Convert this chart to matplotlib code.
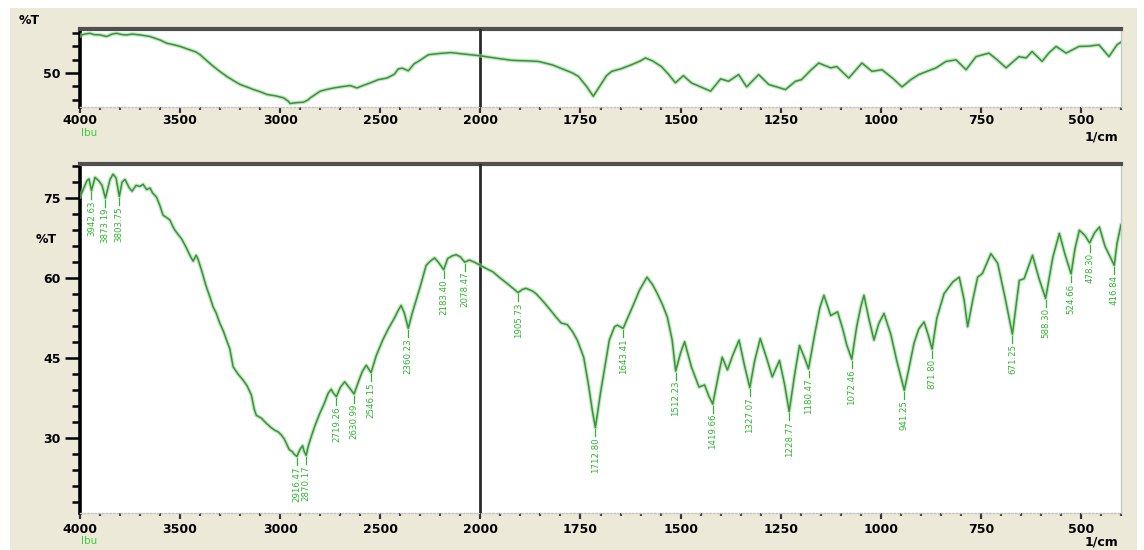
import numpy as np
import matplotlib
matplotlib.use("Agg")
import matplotlib.pyplot as plt
from matplotlib.patches import Rectangle

W, H = 1144, 550

# ---- upper (overview) trace ----
overview_wn = [4000, 3992, 3970, 3950, 3930, 3900, 3867, 3840, 3817, 3790, 3767, 3740,
               3700, 3650, 3600, 3567, 3530, 3500, 3450, 3420, 3400, 3370, 3333, 3300,
               3267, 3230, 3200, 3160, 3133, 3100, 3067, 3020, 2983, 2960, 2950, 2920,
               2883, 2860, 2850, 2800, 2770, 2733, 2690, 2650, 2617, 2580, 2550, 2510,
               2467, 2430, 2410, 2390, 2360, 2330, 2310, 2260, 2200, 2145, 2100, 2050,
               2000, 1960, 1920, 1880, 1855, 1820, 1790, 1770, 1755, 1735, 1718, 1700,
               1685, 1672, 1650, 1622, 1600, 1588, 1570, 1548, 1530, 1513, 1493, 1473,
               1450, 1425, 1400, 1380, 1355, 1335, 1305, 1280, 1238, 1213, 1198, 1175,
               1155, 1125, 1110, 1080, 1047, 1022, 997, 970, 947, 925, 905, 862,
               837, 812, 787, 762, 730, 710, 687, 655, 637, 622, 597, 580,
               562, 537, 505, 480, 455, 430, 410, 400]
overview_t = [63.8, 64.2, 64.6, 64.8, 64.3, 64.2, 63.6, 64.5, 64.8, 64.3, 64.2, 64.5,
              64.2, 63.6, 62.3, 61.1, 60.5, 59.9, 58.6, 57.8, 56.8, 54.8, 52.4, 50.5,
              48.7, 47.0, 45.7, 44.6, 43.8, 43.0, 42.0, 41.4, 40.7, 39.5, 38.6, 38.9,
              39.1, 40.0, 40.7, 43.2, 43.8, 44.4, 44.9, 45.3, 44.4, 45.5, 46.3, 47.5,
              48.1, 49.5, 51.5, 51.8, 50.8, 53.5, 54.3, 56.8, 57.3, 57.6, 57.2, 56.8,
              56.4, 55.5, 54.7, 54.5, 54.3, 53.0, 51.2, 50.0, 48.7, 45.0, 41.3, 45.5,
              49.0, 50.6, 51.5, 53.1, 54.5, 55.6, 54.5, 52.4, 49.5, 46.3, 49.0, 46.3,
              44.8, 43.2, 47.8, 46.9, 49.4, 44.8, 49.4, 45.7, 43.8, 46.9, 47.5, 51.0,
              53.7, 51.9, 52.4, 48.1, 53.7, 50.6, 51.2, 48.0, 44.8, 47.5, 49.4, 51.9,
              54.3, 54.9, 51.2, 56.1, 57.4, 55.0, 51.9, 56.1, 55.6, 58.0, 54.3, 57.5,
              59.9, 57.4, 59.9, 60.0, 60.5, 56.1, 60.5, 61.5]

# ---- lower (main) trace ----
main_wn = [4000, 3992, 3965, 3955, 3942.63, 3925, 3905, 3890, 3873.19, 3850, 3835, 3820,
           3803.75, 3790, 3775, 3755, 3740, 3720, 3700, 3685, 3667, 3650, 3638, 3618,
           3600, 3585, 3565, 3551, 3535, 3526, 3510, 3493, 3470, 3450, 3435, 3420,
           3410, 3393, 3370, 3352, 3335, 3320, 3302, 3285, 3268, 3252, 3235, 3210,
           3185, 3165, 3144, 3130, 3119, 3095, 3069, 3045, 3027, 3010, 2994, 2980,
           2969, 2955, 2940, 2930, 2916.47, 2900, 2888, 2880, 2870.17, 2860, 2845, 2825,
           2803, 2780, 2761, 2745, 2735, 2719.26, 2700, 2678, 2655, 2630.99, 2610, 2590,
           2570, 2546.15, 2520, 2488, 2460, 2430, 2410, 2396, 2380, 2360.23, 2340, 2321,
           2300, 2271, 2250, 2229, 2210, 2183.40, 2163, 2140, 2121, 2100, 2078.47, 2055,
           2030, 2005, 1985, 1969, 1950, 1933, 1920, 1905.73, 1895, 1886, 1870, 1861,
           1845, 1828, 1812, 1798, 1783, 1770, 1758, 1742, 1730, 1720, 1712.80, 1700,
           1692, 1678, 1665, 1658, 1643.41, 1633, 1618, 1603, 1584, 1570, 1558, 1545,
           1533, 1521, 1512.23, 1500, 1490, 1473, 1454, 1440, 1430, 1419.66, 1405, 1396,
           1383, 1370, 1354, 1340, 1327.07, 1315, 1301, 1285, 1271, 1253, 1240, 1228.77,
           1215, 1203, 1190, 1180.47, 1165, 1152, 1142, 1125, 1108, 1095, 1085, 1072.46,
           1060, 1050, 1042, 1030, 1017, 1005, 992, 975, 960, 941.25, 930, 917,
           905, 892, 882, 871.80, 860, 842, 820, 804, 792, 783, 770, 758,
           746, 725, 708, 690, 671.25, 654, 642, 621, 605, 588.30, 570, 554,
           540, 524.66, 515, 504, 490, 478.30, 466, 454, 440, 416.84, 410, 400]
main_t = [75.3, 75.9, 78.3, 78.6, 76.4, 78.9, 78.2, 77.4, 75.0, 78.5, 79.5, 78.8,
          75.3, 78.0, 78.5, 77.0, 76.3, 77.4, 77.2, 77.6, 76.6, 76.9, 76.0, 75.2,
          73.5, 71.8, 71.3, 70.9, 69.6, 69.0, 68.2, 67.4, 65.8, 64.2, 63.2, 64.3,
          63.5, 61.5, 58.5, 56.6, 54.6, 53.5, 51.6, 50.2, 48.4, 46.8, 43.4, 42.0,
          40.9, 39.8, 38.1, 35.5, 34.3, 33.8, 32.8, 32.0, 31.5, 31.2, 30.6, 29.9,
          29.0, 27.9, 27.5, 27.0, 26.6, 28.0, 28.6, 27.5, 26.8, 28.5, 30.3, 32.5,
          34.6, 36.5, 38.4, 39.2, 38.5, 37.8, 39.5, 40.6, 39.5, 38.3, 40.5, 42.5,
          43.7, 42.3, 45.5, 48.4, 50.5, 52.5, 54.0, 54.9, 53.5, 50.6, 53.5, 55.9,
          58.5, 62.4, 63.2, 63.8, 63.0, 61.6, 63.7, 64.2, 64.4, 64.0, 63.0, 63.4,
          63.0, 62.5, 61.8, 61.2, 60.0, 59.0, 58.2, 57.3, 57.9, 58.1, 57.6, 57.1,
          55.8, 54.3, 52.8, 51.6, 51.3, 50.0, 48.4, 45.2, 40.0, 35.0, 32.0, 38.5,
          42.1, 48.4, 50.9, 51.2, 50.6, 52.4, 55.0, 57.7, 60.2, 58.8, 57.1, 55.0,
          52.7, 48.4, 42.6, 46.0, 48.1, 43.4, 39.6, 40.0, 38.0, 36.4, 42.0, 45.2,
          42.8, 45.5, 48.4, 43.5, 39.5, 44.5, 48.7, 45.0, 41.5, 44.6, 40.0, 35.0,
          42.0, 47.4, 45.0, 43.0, 49.5, 54.5, 56.8, 53.0, 53.7, 50.5, 47.5, 44.8,
          51.0, 54.6, 56.8, 52.5, 48.4, 51.5, 53.4, 49.5, 44.5, 39.0, 43.0, 47.8,
          50.5, 51.8, 49.5, 46.7, 52.5, 57.1, 59.3, 60.2, 56.0, 50.9, 56.0, 60.2,
          60.9, 64.6, 62.8, 56.5, 49.5, 59.6, 59.9, 64.3, 60.0, 56.2, 64.0, 68.4,
          64.5, 60.8, 65.5, 69.0, 68.0, 66.6, 68.5, 69.6, 66.0, 62.4, 66.5, 70.0]

# labelled minima of the main trace
peak_wn = [3942.63, 3873.19, 3803.75, 2916.47, 2870.17, 2719.26, 2630.99, 2546.15,
           2360.23, 2183.40, 2078.47, 1905.73, 1712.80, 1643.41, 1512.23, 1419.66,
           1327.07, 1228.77, 1180.47, 1072.46, 941.25, 871.80, 671.25, 588.30,
           524.66, 478.30, 416.84]
peak_text = ["%.2f" % p for p in peak_wn]

x_major = [4000, 3500, 3000, 2500, 2000, 1750, 1500, 1250, 1000, 750, 500]
x_labels = [str(v) for v in x_major]
x_minor = [v for v in range(3900, 2000, -100) if v not in x_major] + \
          [v for v in range(1950, 399, -50) if v not in x_major]

top_yticks = [50]
top_yminor = [40, 45, 55, 60, 65]
bot_yticks = [30, 45, 60, 75]
bot_yminor = [v for v in range(18, 82, 3) if v not in bot_yticks]

BEIGE = "#ECE9D8"
TRACE = "#3f8f3f"
HALO = "#8fdc8f"
LABEL_GREEN = "#2fb52f"
NAME_GREEN = "#3fcf3f"


def fwd(w):
    w = np.asarray(w, dtype=float)
    return np.where(w >= 2000, w, 2.0 * w - 2000.0)


def inv(u):
    u = np.asarray(u, dtype=float)
    return np.where(u >= 2000, u, (u + 2000.0) / 2.0)


fig = plt.figure(figsize=(W / 100, H / 100), dpi=100)
fig.patch.set_facecolor("white")
fig.add_artist(Rectangle((10 / W, 0), (1137 - 10) / W, 1 - 8 / H,
                         transform=fig.transFigure, facecolor=BEIGE,
                         edgecolor="none", zorder=-10))


def px_axes(x0, y0, x1, y1):
    return fig.add_axes([x0 / W, 1 - y1 / H, (x1 - x0) / W, (y1 - y0) / H])


def ftext(x, y, s, **kw):
    fig.text(x / W, 1 - y / H, s, **kw)


def style(ax, ylim, yt, ym, xpad):
    ax.set_facecolor("white")
    ax.set_xscale("function", functions=(fwd, inv))
    ax.set_xlim(4000, 400)
    ax.set_ylim(*ylim)
    ax.set_xticks(x_major)
    ax.set_xticklabels(x_labels)
    ax.set_xticks(x_minor, minor=True)
    ax.set_yticks(yt)
    ax.set_yticks(ym, minor=True)
    ax.spines["left"].set_color("black")
    ax.spines["left"].set_linewidth(2.6)
    ax.spines["top"].set_color("#4f4f4f")
    ax.spines["top"].set_linewidth(3)
    ax.spines["right"].set_color("#c9c9c9")
    ax.spines["right"].set_linewidth(1)
    ax.spines["bottom"].set_color("#c4c4c4")
    ax.spines["bottom"].set_linewidth(1)
    ax.spines["bottom"].set_linestyle(":")
    ax.tick_params(axis="x", which="major", direction="out", length=4, width=1.6,
                   color="#333333", pad=xpad, labelsize=9)
    ax.tick_params(axis="x", which="minor", direction="out", length=2.5, width=1.6,
                   color="#444444")
    ax.tick_params(axis="y", which="major", direction="out", length=11, width=1.8,
                   color="black", pad=3, labelsize=9)
    ax.tick_params(axis="y", which="minor", direction="out", length=6, width=1.8,
                   color="black")
    for lbl in ax.get_xticklabels() + ax.get_yticklabels():
        lbl.set_fontweight("bold")
    ax.axvline(2000, color="#2a2a2a", lw=2, zorder=3)


# upper panel
ax_top = px_axes(80, 29, 1121, 107)
style(ax_top, (37.3, 66.4), top_yticks, top_yminor, 1.0)
ax_top.plot(overview_wn, overview_t, color=HALO, lw=2.8, alpha=0.6,
            solid_joinstyle="round", zorder=4)
ax_top.plot(overview_wn, overview_t, color=TRACE, lw=1.1,
            solid_joinstyle="round", zorder=5)

# lower panel
ax_bot = px_axes(80, 164, 1121, 513)
style(ax_bot, (16.0, 81.4), bot_yticks, bot_yminor, 3.0)
ax_bot.plot(main_wn, main_t, color=HALO, lw=2.8, alpha=0.6,
            solid_joinstyle="round", zorder=4)
ax_bot.plot(main_wn, main_t, color=TRACE, lw=1.1,
            solid_joinstyle="round", zorder=5)

asc_wn = np.array(main_wn[::-1], dtype=float)
asc_t = np.array(main_t[::-1], dtype=float)
for w, s in zip(peak_wn, peak_text):
    v = float(np.interp(w, asc_wn, asc_t))
    ax_bot.plot([w, w], [v - 0.3, v - 1.6], color=LABEL_GREEN, lw=0.9, zorder=6)
    ax_bot.text(w, v - 1.8, s, rotation=90, ha="center", va="top",
                fontsize=6.2, color=LABEL_GREEN, zorder=6)

# surrounding texts
ftext(29, 20, "%T", fontsize=9, fontweight="bold", ha="center", va="center")
ftext(46, 240, "%T", fontsize=9, fontweight="bold", ha="center", va="center")
ftext(81, 128, "Ibu", fontsize=7.5, color=NAME_GREEN, ha="left", va="top")
ftext(81, 536, "Ibu", fontsize=7.5, color=NAME_GREEN, ha="left", va="top")
ftext(1118, 137, "1/cm", fontsize=9, fontweight="bold", ha="right", va="center")
ftext(1118, 542, "1/cm", fontsize=9, fontweight="bold", ha="right", va="center")

fig.savefig("out.png", dpi=100, facecolor=fig.get_facecolor())
